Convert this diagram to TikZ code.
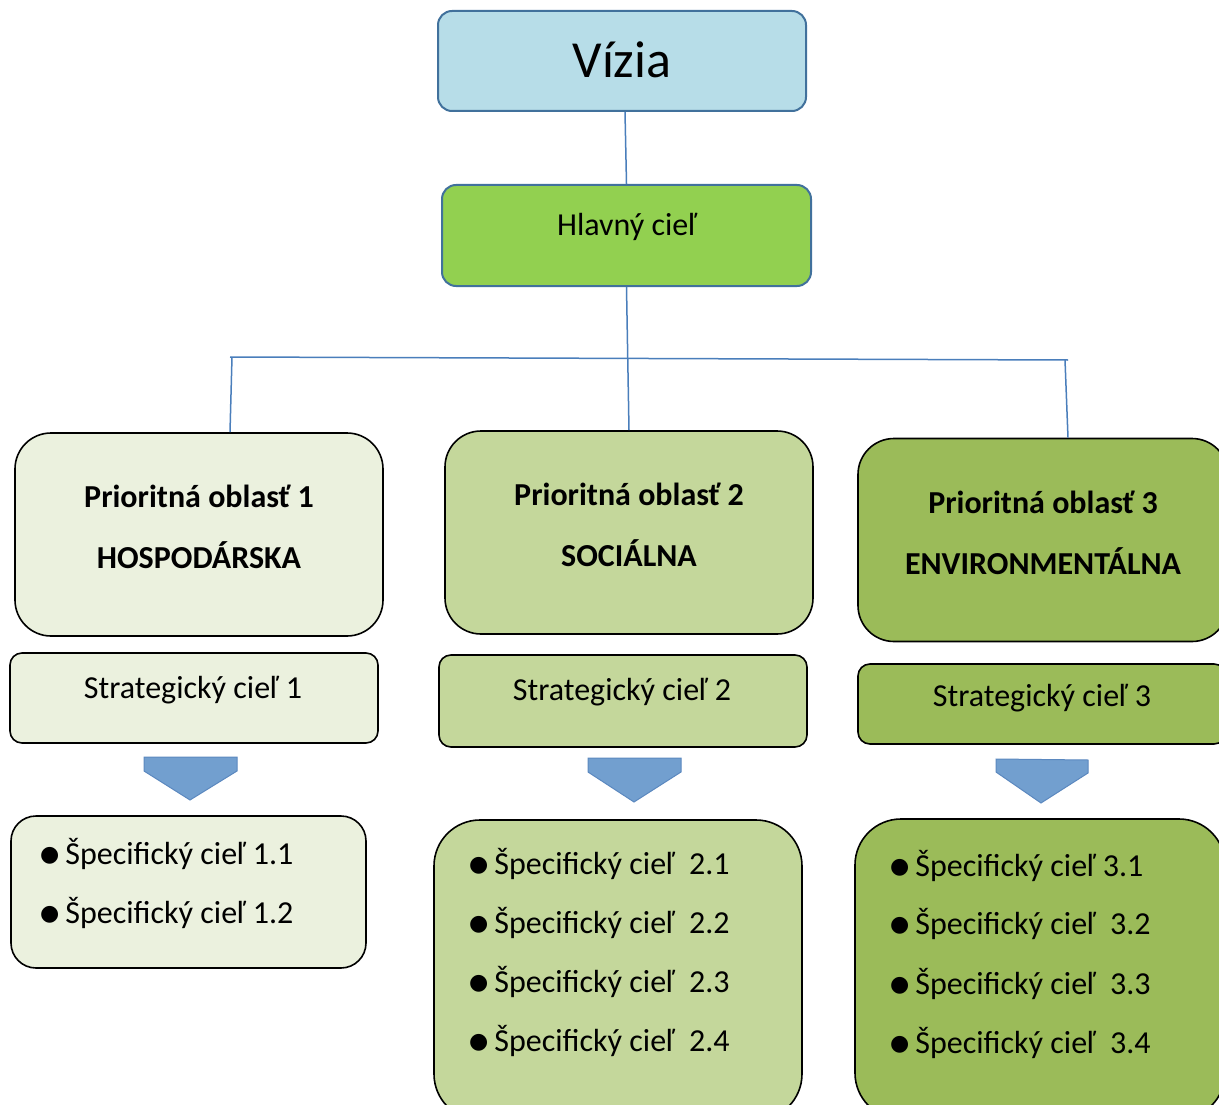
\documentclass[tikz,border=0pt]{standalone}
\usepackage{fontspec}
\setmainfont{Carlito}
\newfontfamily\djv{DejaVu Sans}
\definecolor{viziac}{HTML}{B7DDE8}
\definecolor{hlavc}{HTML}{92D050}
\definecolor{bluebd}{HTML}{41719C}
\definecolor{connc}{HTML}{4A7EBB}
\definecolor{gA}{HTML}{EBF1DE}
\definecolor{gB}{HTML}{C4D79B}
\definecolor{gC}{HTML}{9BBB59}
\definecolor{arrowc}{HTML}{729FCF}
\definecolor{arrowbd}{HTML}{5B88BF}
\tikzset{
  topbox/.style={draw=bluebd, line width=2pt, rounded corners=14pt, inner sep=0pt},
  pobox/.style={draw=black, line width=1.6pt, rounded corners=36pt, minimum width=368pt, minimum height=203pt, inner sep=0pt},
  scbox/.style={draw=black, line width=1.6pt, rounded corners=12pt, minimum width=368pt, inner sep=0pt},
  spbox/.style={draw=black, line width=1.6pt, inner sep=0pt},
  conn/.style={draw=connc, line width=1.5pt},
  potext/.style={font=\bfseries\fontsize{32}{36}\selectfont, inner sep=0pt},
  sctext/.style={font=\fontsize{32}{36}\selectfont, inner sep=0pt},
  item/.style={font=\fontsize{32}{36}\selectfont, inner sep=0pt, anchor=west},
  chev/.style={fill=arrowc, draw=arrowbd, line width=1pt, line join=miter},
}
\newcommand{\bul}{\raisebox{3pt}{\djv\fontsize{22}{24}\selectfont ●}\hspace{6pt}}
\begin{document}
\begin{tikzpicture}[x=1pt,y=-1pt]
\useasboundingbox (0,0) rectangle (1219,1105);
\clip (0,0) rectangle (1219,1105);

% top boxes
\node[topbox, fill=viziac, minimum width=368pt, minimum height=100pt] (vizia) at (622,61) {};
\node[font=\fontsize{52}{60}\selectfont, inner sep=0pt] (viziat) at (622,60) {Vízia};
\node[topbox, fill=hlavc, minimum width=369pt, minimum height=101pt] (hlavny) at (626.5,235.5) {};
\node[font=\fontsize{32}{36}\selectfont, inner sep=0pt] (hlavnyt) at (627,227) {Hlavný cieľ};

% priority boxes
\node[pobox, fill=gA] (po1) at (199,534.5) {};
\node[pobox, fill=gB] (po2) at (629,532.5) {};
\node[pobox, fill=gC, minimum width=370pt] (po3) at (1043,540) {};
\node[potext] (po1a) at (199,496) {Prioritná oblasť 1};
\node[potext] (po1b) at (199,555) {HOSPODÁRSKA};
\node[potext] (po2a) at (629,494) {Prioritná oblasť 2};
\node[potext] (po2b) at (629,553) {SOCIÁLNA};
\node[potext] (po3a) at (1043,502) {Prioritná oblasť 3};
\node[potext] (po3b) at (1043,561) {ENVIRONMENTÁLNA};

% strategic boxes
\node[scbox, fill=gA, minimum height=90pt] (sc1) at (194,698) {};
\node[scbox, fill=gB, minimum height=92pt] (sc2) at (623,701) {};
\node[scbox, fill=gC, minimum height=80pt] (sc3) at (1042,704) {};
\node[sctext] (sc1t) at (193,690) {Strategický cieľ 1};
\node[sctext] (sc2t) at (622,692) {Strategický cieľ 2};
\node[sctext] (sc3t) at (1042,698) {Strategický cieľ 3};

% chevrons
\draw[chev] (144,757) -- (237,757) -- (237,771) -- (190,800) -- (144,771) -- cycle;
\draw[chev] (588,758) -- (681,758) -- (681,772) -- (634,802) -- (588,772) -- cycle;
\draw[chev] (996,759) -- (1088,760) -- (1088,773) -- (1041,803) -- (996,772) -- cycle;

% specific boxes
\node[spbox, fill=gA, rounded corners=25pt, minimum width=355pt, minimum height=152pt] (sp1) at (188.5,892) {};
\node[spbox, fill=gB, rounded corners=46pt, minimum width=368pt, minimum height=300pt] (sp2) at (618,970) {};
\node[spbox, fill=gC, rounded corners=46pt, minimum width=370pt, minimum height=300pt] (sp3) at (1040,969) {};

\node[item] (i11) at (40,854) {\bul Špecifický cieľ 1.1};
\node[item] (i12) at (40,913) {\bul Špecifický cieľ 1.2};
\node[item] (i21) at (469,864) {\bul Špecifický cieľ\ \ 2.1};
\node[item] (i22) at (469,923) {\bul Špecifický cieľ\ \ 2.2};
\node[item] (i23) at (469,982) {\bul Špecifický cieľ\ \ 2.3};
\node[item] (i24) at (469,1041) {\bul Špecifický cieľ\ \ 2.4};
\node[item] (i31) at (890,866) {\bul Špecifický cieľ 3.1};
\node[item] (i32) at (890,924) {\bul Špecifický cieľ\ \ 3.2};
\node[item] (i33) at (890,984) {\bul Špecifický cieľ\ \ 3.3};
\node[item] (i34) at (890,1043) {\bul Špecifický cieľ\ \ 3.4};

% connectors
\coordinate (hl) at (230,357);
\coordinate (hr) at (1068,360);
\draw[conn] ([xshift=3pt]vizia.south) -- (hlavny.north);
\draw[conn] (hlavny.south) -- (po2.north);
\draw[conn] (hl) -- (hr);
\draw[conn] ([xshift=2pt]hl) -- (hl |- po1.north);
\draw[conn] ([xshift=-3pt]hr) -- (hr |- po3.north);
\end{tikzpicture}
\end{document}
